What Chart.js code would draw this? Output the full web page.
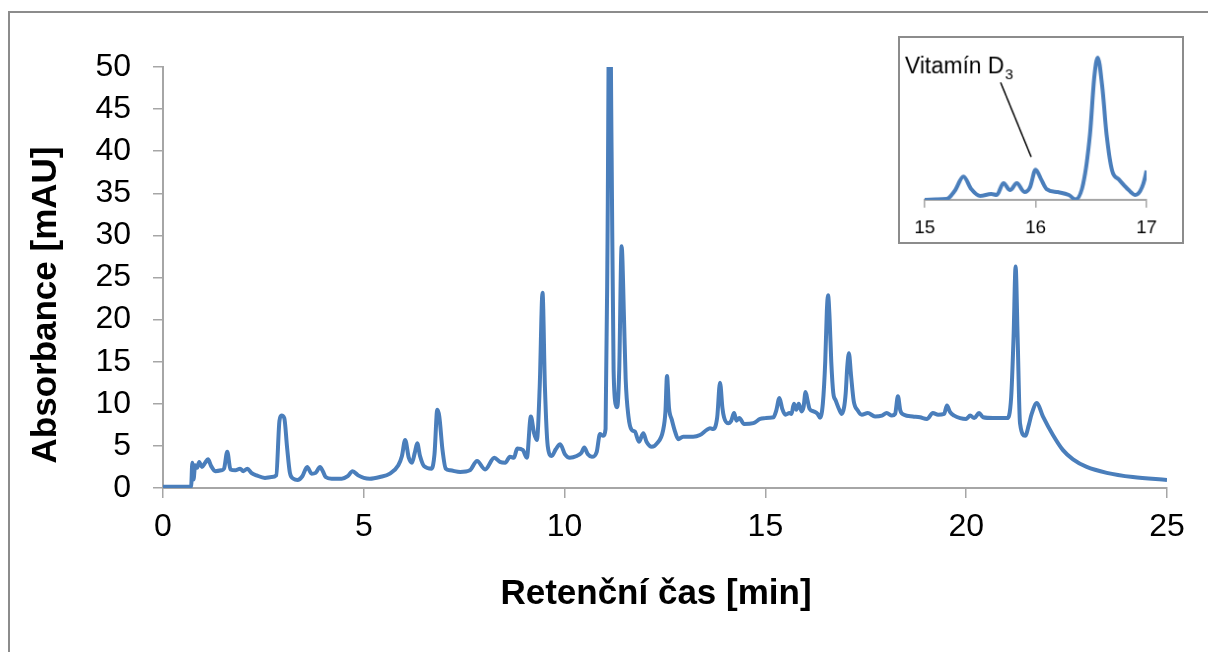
<!DOCTYPE html>
<html>
<head>
<meta charset="utf-8">
<script src="https://cdn.jsdelivr.net/npm/chart.js@4"></script>
<style>
  html, body { margin: 0; padding: 0; background: #fff; overflow: hidden; }
  #frame { position: absolute; left: 8px; top: 11px; width: 1260px; height: 700px; border: 2px solid #8c8c8c; }
  #main { position: absolute; left: 0; top: 0; }
  #inset { position: absolute; left: 898px; top: 36px; border: 2px solid #8c8c8c; background: #fff; }
</style>
</head>
<body>
<div id="frame"></div>
<canvas id="main" width="1208" height="652"></canvas>
<canvas id="inset" width="286" height="208"></canvas>
<script>
// retention time [min]
const retentionTimes = [
  0, 0.7, 0.73, 0.76, 0.8, 0.85, 0.9, 0.97, 1.05, 1.12, 1.2, 1.3, 1.45, 1.52, 1.6, 1.68, 1.8, 1.92, 2.0, 2.1,
  2.2, 2.33, 2.54, 2.7, 2.82, 2.9, 2.95, 3.02, 3.09, 3.16, 3.25, 3.35, 3.47, 3.59, 3.7, 3.8, 3.91, 3.98, 4.05, 4.2,
  4.45, 4.6, 4.72, 4.86, 5.0, 5.15, 5.4, 5.65, 5.86, 5.95, 6.03, 6.12, 6.2, 6.27, 6.33, 6.4, 6.5, 6.69, 6.76, 6.83,
  6.88, 6.96, 7.04, 7.15, 7.4, 7.64, 7.82, 8.02, 8.25, 8.39, 8.52, 8.64, 8.74, 8.82, 8.96, 9.06, 9.16, 9.24, 9.31, 9.38,
  9.45, 9.51, 9.58, 9.68, 9.78, 9.89, 10.01, 10.13, 10.3, 10.42, 10.49, 10.58, 10.68, 10.8, 10.88, 10.96, 11.02, 11.07, 11.12, 11.17,
  11.22, 11.28, 11.31, 11.36, 11.42, 11.48, 11.52, 11.59, 11.67, 11.75, 11.85, 11.96, 12.04, 12.17, 12.3, 12.45, 12.51, 12.55, 12.6, 12.67,
  12.75, 12.83, 12.95, 13.1, 13.2, 13.37, 13.54, 13.62, 13.7, 13.8, 13.87, 13.93, 13.97, 14.07, 14.15, 14.22, 14.28, 14.35, 14.47, 14.7,
  14.87, 15.0, 15.1, 15.2, 15.27, 15.35, 15.42, 15.5, 15.6, 15.65, 15.71, 15.77, 15.83, 15.9, 15.95, 16.0, 16.05, 16.1, 16.2, 16.3,
  16.36, 16.43, 16.49, 16.53, 16.56, 16.6, 16.64, 16.69, 16.75, 16.84, 16.9, 16.96, 17.0, 17.04, 17.08, 17.13, 17.2, 17.3, 17.4, 17.55,
  17.73, 17.9, 18.02, 18.15, 18.23, 18.3, 18.36, 18.45, 18.67, 18.85, 19.02, 19.17, 19.3, 19.45, 19.52, 19.6, 19.7, 19.85, 20.0, 20.1,
  20.2, 20.32, 20.42, 20.67, 21.02, 21.12, 21.18, 21.23, 21.28, 21.34, 21.47, 21.56, 21.63, 21.76, 21.91, 22.16, 22.41, 22.66, 23.0, 23.5,
  24.15, 25.0
];
// absorbance [mAU]
const absorbance = [
  0.15, 0.15, 3.0, 1.0, 2.7, 2.4, 3.1, 2.5, 3.0, 3.4, 2.6, 2.0, 2.1, 2.3, 4.3, 2.2, 2.1, 2.3, 2.0, 2.3,
  1.8, 1.5, 1.2, 1.3, 1.5, 8.0, 8.6, 8.3, 4.8, 1.8, 1.1, 0.95, 1.4, 2.5, 1.7, 1.8, 2.5, 2.0, 1.3, 1.1,
  1.1, 1.4, 2.0, 1.5, 1.2, 1.1, 1.3, 1.7, 2.7, 3.8, 5.7, 3.6, 3.0, 4.2, 5.3, 3.8, 2.6, 2.3, 4.0, 9.3,
  8.5, 4.5, 2.3, 2.1, 1.9, 2.1, 3.2, 2.2, 3.6, 3.1, 3.0, 3.7, 3.6, 4.7, 4.5, 3.6, 8.5, 6.5, 5.7, 12,
  23.2, 12, 5.0, 3.8, 4.6, 5.2, 4.0, 3.6, 3.8, 4.2, 4.8, 4.0, 3.7, 4.3, 6.4, 6.2, 7.0, 30, 65, 40,
  14, 9.8, 9.6, 14, 28.7, 20, 13, 8.5, 6.9, 6.7, 5.5, 6.5, 5.5, 4.9, 5.3, 6.8, 9, 13.3, 9.5, 8.1,
  6.7, 5.8, 6.1, 6.1, 6.1, 6.3, 6.9, 7.1, 7.0, 8.4, 12.5, 9.5, 8.4, 7.7, 8.0, 8.9, 8.0, 8.3, 7.6, 7.7,
  8.2, 8.3, 8.35, 8.4, 9.2, 10.7, 9.4, 8.7, 8.9, 8.8, 10.0, 9.3, 10.0, 9.1, 9.6, 11.4, 10.4, 9.4, 9.1, 8.8,
  8.35, 10.0, 15, 21, 22.9, 20, 15, 11.3, 10.4, 9.3, 8.8, 9.6, 11.3, 14.5, 16.0, 13.5, 10.3, 9.2, 8.7, 8.9,
  8.5, 8.6, 8.9, 8.6, 8.8, 10.9, 9.2, 8.7, 8.5, 8.4, 8.2, 8.9, 8.7, 8.8, 9.8, 9.0, 8.6, 8.3, 8.2, 8.6,
  8.3, 8.9, 8.4, 8.3, 8.3, 10.8, 18, 26.3, 18, 7.7, 6.2, 7.5, 8.8, 10.1, 8.5, 6.3, 4.5, 3.4, 2.5, 1.8,
  1.3, 0.95
];

const xTickValues = [0, 5, 10, 15, 20, 25];
const yTickValues = [0, 5, 10, 15, 20, 25, 30, 35, 40, 45, 50];
const insetTickValues = [15, 16, 17];
const insetRange = [15, 17];
const annotationText = "Vitamín D";
const annotationSub = "3";
const vitaminPeak = [15.96, 11.4];

const lineColor = "#4A7EBB";
const axisColor = "#a6a6a6";
const fontFamily = "'Liberation Sans', Arial, sans-serif";

const points = retentionTimes.map((t, i) => ({ x: t, y: absorbance[i] }));
const insetPoints = points.filter(p => p.x >= insetRange[0] - 0.2 && p.x <= insetRange[1] + 0.2);

// axis titles drawn at fixed spots like in the original figure
const axisTitles = {
  id: "axisTitles",
  afterDraw(chart) {
    const c = chart.ctx;
    c.save();
    c.fillStyle = "#000";
    c.font = "bold 35px " + fontFamily;
    c.textAlign = "center";
    c.textBaseline = "middle";
    c.fillText("Retenční čas [min]", 656, 594);
    c.translate(46, 305);
    c.rotate(-Math.PI / 2);
    c.fillText("Absorbance [mAU]", 0, 0);
    c.restore();
  }
};

new Chart(document.getElementById("main"), {
  type: "line",
  data: {
    datasets: [{
      data: points,
      borderColor: lineColor,
      borderWidth: 4,
      pointRadius: 0,
      cubicInterpolationMode: "monotone",
      fill: false
    }]
  },
  options: {
    responsive: false,
    animation: false,
    layout: { padding: { top: 67, right: 41, bottom: 0, left: 0 } },
    plugins: { legend: { display: false }, tooltip: { enabled: false } },
    scales: {
      x: {
        type: "linear",
        min: 0,
        max: 25,
        afterBuildTicks: s => { s.ticks = xTickValues.map(v => ({ value: v })); },
        afterFit: s => { s.height = 164; },
        grid: { drawOnChartArea: false, tickLength: 10, color: axisColor, lineWidth: 1.5 },
        border: { color: axisColor, width: 2 },
        ticks: { color: "#000", font: { family: fontFamily, size: 32 }, padding: 10, maxRotation: 0 }
      },
      y: {
        min: 0,
        max: 50,
        afterBuildTicks: s => { s.ticks = yTickValues.map(v => ({ value: v })); },
        afterFit: s => { s.width = 163; },
        grid: { drawOnChartArea: false, tickLength: 10, color: axisColor, lineWidth: 1.5 },
        border: { color: axisColor, width: 2 },
        ticks: { color: "#000", font: { family: fontFamily, size: 32 }, padding: 22 }
      }
    }
  },
  plugins: [axisTitles]
});

// label + pointer line for the vitamin D3 peak
const vitaminLabel = {
  id: "vitaminLabel",
  afterDraw(chart) {
    const c = chart.ctx;
    const ex = chart.scales.x.getPixelForValue(vitaminPeak[0]);
    const ey = chart.scales.y.getPixelForValue(vitaminPeak[1]) - 13;
    c.save();
    c.fillStyle = "#000";
    c.textBaseline = "alphabetic";
    c.font = "23px " + fontFamily;
    c.fillText(annotationText, 5, 36);
    const w = c.measureText(annotationText).width;
    c.font = "15px " + fontFamily;
    c.fillText(annotationSub, 5 + w + 1, 42);
    c.strokeStyle = "#000";
    c.lineWidth = 1.5;
    c.beginPath();
    c.moveTo(ex - 31, ey - 76);
    c.lineTo(ex, ey);
    c.stroke();
    c.restore();
  }
};

new Chart(document.getElementById("inset"), {
  type: "line",
  data: {
    datasets: [{
      data: insetPoints,
      borderColor: lineColor,
      borderWidth: 4,
      pointRadius: 0,
      cubicInterpolationMode: "monotone",
      fill: false
    }]
  },
  options: {
    responsive: false,
    animation: false,
    layout: { padding: { top: 2, right: 36, bottom: 0, left: 25 } },
    plugins: { legend: { display: false }, tooltip: { enabled: false } },
    scales: {
      x: {
        type: "linear",
        min: insetRange[0],
        max: insetRange[1],
        afterBuildTicks: s => { s.ticks = insetTickValues.map(v => ({ value: v })); },
        afterFit: s => { s.height = 43; },
        grid: { drawOnChartArea: false, tickLength: 8, color: axisColor, lineWidth: 1.5 },
        border: { color: axisColor, width: 2 },
        ticks: { color: "#000", font: { family: fontFamily, size: 19 }, padding: 9, maxRotation: 0 }
      },
      y: {
        display: false,
        min: 8.3,
        max: 24.7
      }
    }
  },
  plugins: [vitaminLabel]
});
</script>
</body>
</html>
